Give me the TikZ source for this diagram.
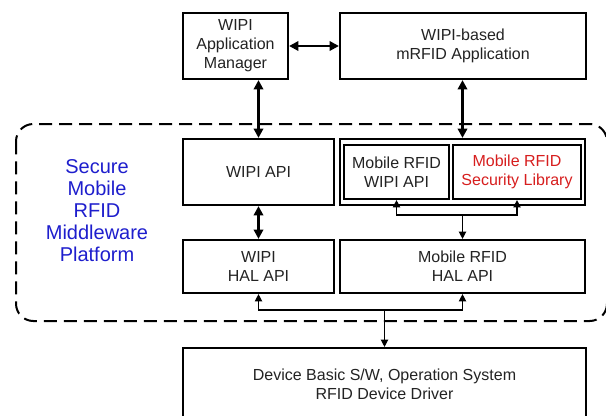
\documentclass[tikz,border=0pt]{standalone}
\usepackage{fontspec}
\setmainfont{Liberation Sans}
\usetikzlibrary{arrows.meta}
\definecolor{txtgray}{RGB}{35,35,35}
\definecolor{platblue}{RGB}{30,30,205}
\definecolor{secred}{RGB}{215,30,30}
\tikzset{
  box/.style={draw=black, line width=1.6pt, fill=white, inner sep=0pt, align=center,
    text=txtgray, font=\fontsize{12pt}{14.25pt}\selectfont},
  bigarrow/.style={line width=2pt, {Triangle[width=7pt,length=7pt]}-{Triangle[width=7pt,length=7pt]}},
  thinarrow/.style={line width=0.9pt, -{Triangle[width=5.5pt,length=5.5pt]}},
  platframe/.style={line width=1.5pt, dash pattern=on 9.75pt off 5.25pt, rounded corners=13pt},
}
\begin{document}
\begin{tikzpicture}[x=0.75pt, y=-0.75pt]
\useasboundingbox (0,0) rectangle (606,415);
\fill[white] (0,0) rectangle (606,415);
% dashed platform frame
\draw[platframe] (16,124) rectangle (607,321);
\node[text=platblue, align=center, font=\fontsize{15pt}{16.5pt}\selectfont] (plat) at (97,211)
  {Secure\\Mobile\\RFID\\Middleware\\Platform};
% top boxes
\node[box, minimum width=78.75pt, minimum height=49.5pt] (mgr) at (235.5,46)
  {WIPI\\Application\\Manager};
\node[box, minimum width=184.5pt, minimum height=49.5pt] (wapp) at (463,46)
  {WIPI-based\\mRFID Application};
% middle row
\node[box, minimum width=113.25pt, minimum height=49.5pt] (wapi) at (258.5,172) {WIPI API};
\node[box, minimum width=183.75pt, minimum height=49.5pt] (grp) at (462.5,172) {};
\node[box, minimum width=78.75pt, minimum height=40.5pt] (mwapi) at (396.5,172)
  {Mobile RFID\\WIPI API};
\node[box, minimum width=96pt, minimum height=40.5pt, text=secred] (sec) at (517,172)
  {Mobile RFID\\Security Library};
% HAL row
\node[box, minimum width=113.25pt, minimum height=39.75pt] (whal) at (258.5,266.5)
  {WIPI\\HAL API};
\node[box, minimum width=183.75pt, minimum height=39.75pt] (mhal) at (462.5,266.5)
  {Mobile RFID\\HAL API};
% device box
\node[box, minimum width=302.25pt, minimum height=54pt] (dev) at (384.5,384)
  {Device Basic S/W, Operation System\\RFID Device Driver};
% thick connectors
\draw[bigarrow] (mgr.east) -- (wapp.west);
\draw[bigarrow] (wapi.north) -- (wapi.north |- mgr.south);
\draw[bigarrow] (grp.north) -- (grp.north |- wapp.south);
\draw[bigarrow] (wapi.south) -- (whal.north);
% upper split
\coordinate (jt) at (462.5,215);
\draw[thinarrow] (jt) -| (mwapi.south);
\draw[thinarrow] (jt) -| (sec.south);
\draw[thinarrow] (jt) -- (mhal.north);
% lower split
\coordinate (jb) at (384.5,310);
\draw[thinarrow] (jb) -| (whal.south);
\draw[thinarrow] (jb) -| (mhal.south);
\draw[thinarrow] (jb) -- (dev.north);
\end{tikzpicture}
\end{document}
